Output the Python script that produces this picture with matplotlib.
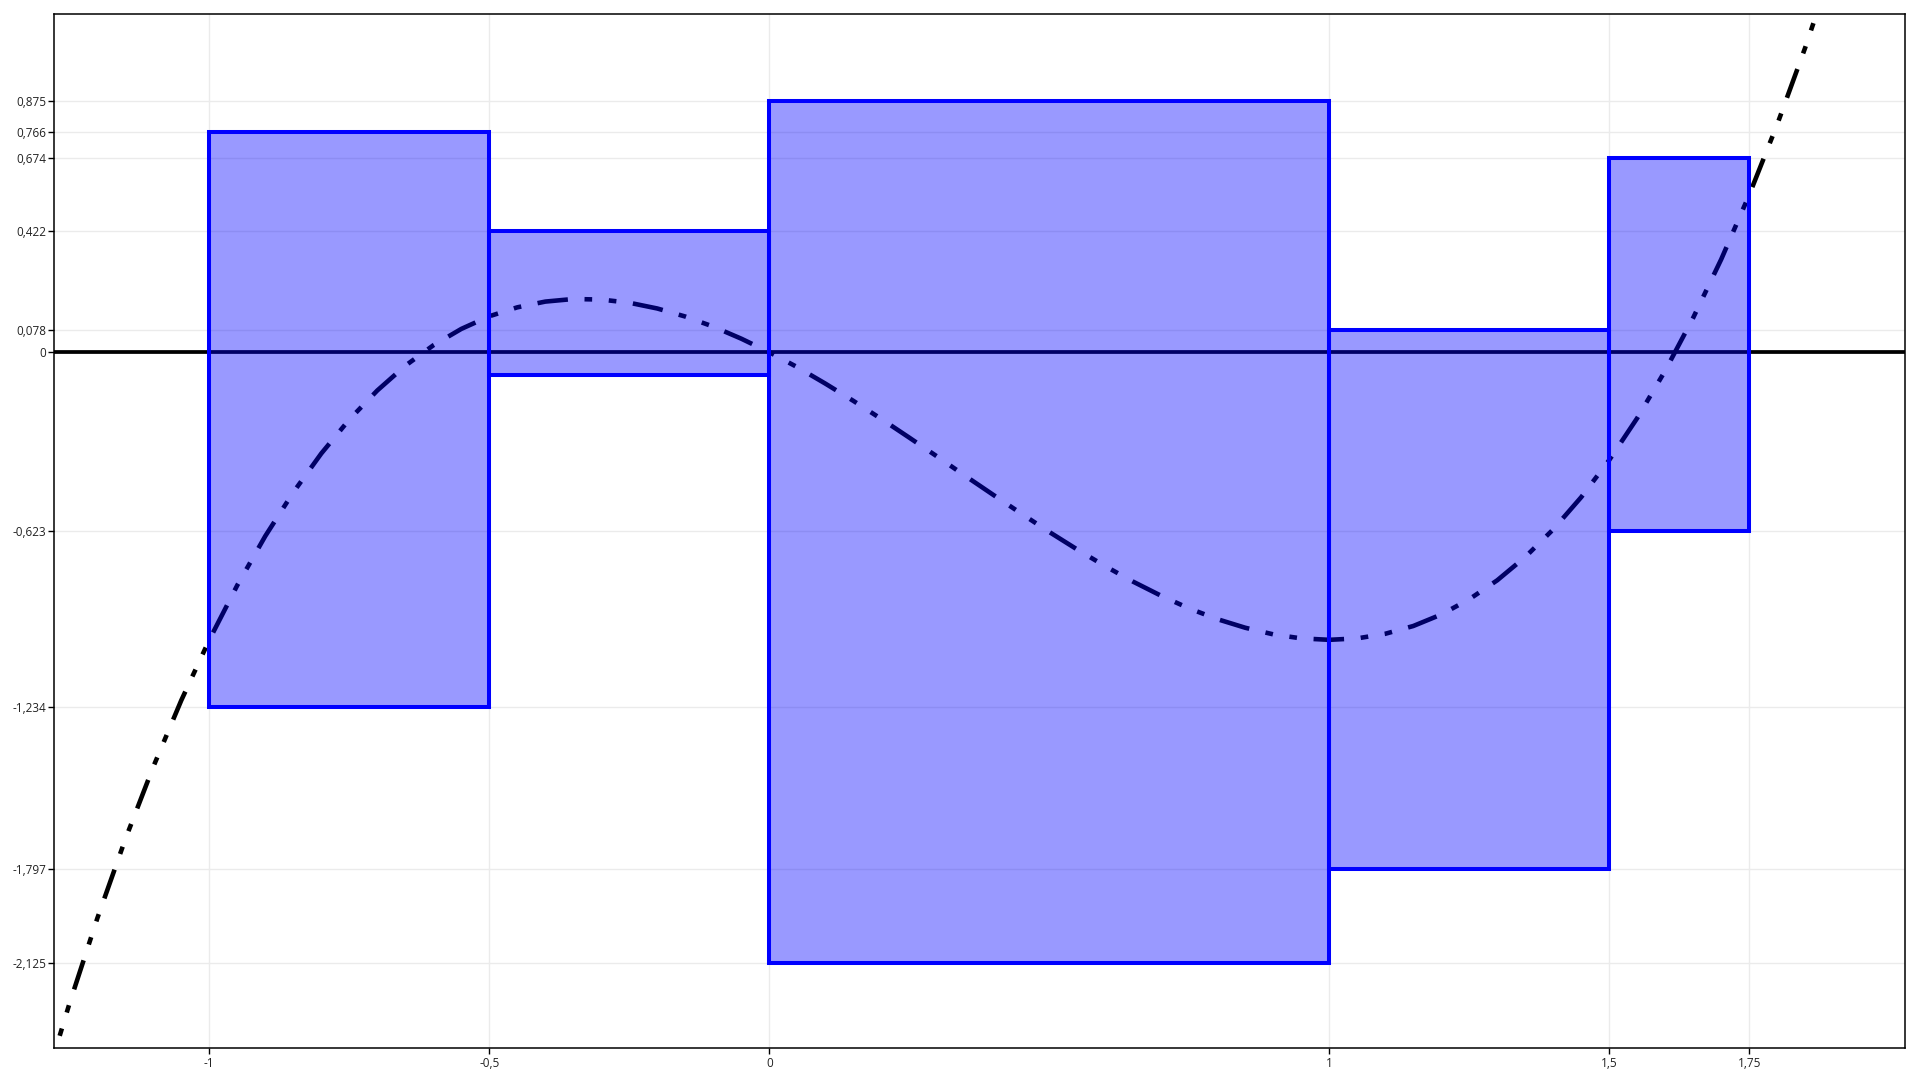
import matplotlib
matplotlib.use("Agg")
import matplotlib.pyplot as plt
import numpy as np

# bar edges along x and the lower/upper value of each bar
edges = [-1, -0.5, 0, 1, 1.5, 1.75]
lows = [-1.234, -0.078, -2.125, -1.797, -0.623]
highs = [0.766, 0.422, 0.875, 0.078, 0.674]

# curve points
curve_x = [-1.3, -1.25, -1.2, -1.15, -1.1, -1.05, -1.0, -0.95, -0.9, -0.85,
           -0.8, -0.75, -0.7, -0.65, -0.6, -0.55, -0.5, -0.45, -0.4, -0.35,
           -0.3, -0.25, -0.2, -0.15, -0.1, -0.05, 0.0, 0.05, 0.1, 0.15, 0.2,
           0.25, 0.3, 0.35, 0.4, 0.45, 0.5, 0.55, 0.6, 0.65, 0.7, 0.75, 0.8,
           0.85, 0.9, 0.95, 1.0, 1.05, 1.1, 1.15, 1.2, 1.25, 1.3, 1.35, 1.4,
           1.45, 1.5, 1.55, 1.6, 1.65, 1.7, 1.75, 1.8, 1.85, 1.9]
curve_y = [-2.587, -2.266, -1.968, -1.693, -1.441, -1.210, -1.0, -0.810,
           -0.639, -0.487, -0.352, -0.234, -0.133, -0.047, 0.024, 0.081,
           0.125, 0.156, 0.176, 0.185, 0.183, 0.172, 0.152, 0.124, 0.089,
           0.047, 0.0, -0.052, -0.109, -0.169, -0.232, -0.297, -0.363, -0.430,
           -0.496, -0.561, -0.625, -0.686, -0.744, -0.798, -0.847, -0.891,
           -0.928, -0.958, -0.981, -0.995, -1.0, -0.995, -0.979, -0.952,
           -0.912, -0.859, -0.793, -0.712, -0.616, -0.504, -0.375, -0.229,
           -0.064, 0.120, 0.323, 0.547, 0.792, 1.059, 1.349]

# tick positions and labels
xtick_vals = [-1, -0.5, 0, 1, 1.5, 1.75]
xtick_labels = ['-1', '-0,5', '0', '1', '1,5', '1,75']
ytick_vals = [0.875, 0.766, 0.674, 0.422, 0.078, 0, -0.623, -1.234, -1.797, -2.125]
ytick_labels = ['0,875', '0,766', '0,674', '0,422', '0,078', '0',
                '-0,623', '-1,234', '-1,797', '-2,125']

plt.rcParams['font.family'] = ['Open Sans', 'DejaVu Sans']
plt.rcParams['lines.scale_dashes'] = False

fig = plt.figure(figsize=(19.2, 10.8), dpi=100)
ax = fig.add_axes([0.0283, 0.0294, 0.964, 0.9574])

# grille légère
for v in xtick_vals:
    ax.axvline(v, color='#ebebeb', lw=1, zorder=0)
for v in ytick_vals:
    ax.axhline(v, color='#ebebeb', lw=1, zorder=0)

# axe horizontal à zéro
ax.axhline(0, color='black', lw=2.7, zorder=1)

# courbe
ax.plot(curve_x, curve_y, color='black', lw=3.3,
        linestyle=(0, (22, 12, 5.5, 12, 5.5, 12)),
        dash_joinstyle='round', zorder=2)

# barres
lefts = edges[:-1]
widths = np.diff(edges)
heights = np.array(highs) - np.array(lows)
ax.bar(lefts, heights, width=widths, bottom=lows, align='edge',
       facecolor=(0, 0, 1, 0.4), edgecolor=(0, 0, 1, 1), linewidth=2.9, zorder=3)

ax.set_xlim(-1.2768, 2.0286)
ax.set_ylim(-2.42, 1.175)

ax.set_xticks(xtick_vals)
ax.set_xticklabels(xtick_labels)
ax.set_yticks(ytick_vals)
ax.set_yticklabels(ytick_labels)
ax.tick_params(axis='both', direction='out', length=4, width=1,
               labelsize=8.5, labelcolor='#222222', pad=2)

for s in ax.spines.values():
    s.set_linewidth(1.1)
    s.set_color('black')
    s.set_zorder(5)

fig.savefig('out.png', dpi=100)
